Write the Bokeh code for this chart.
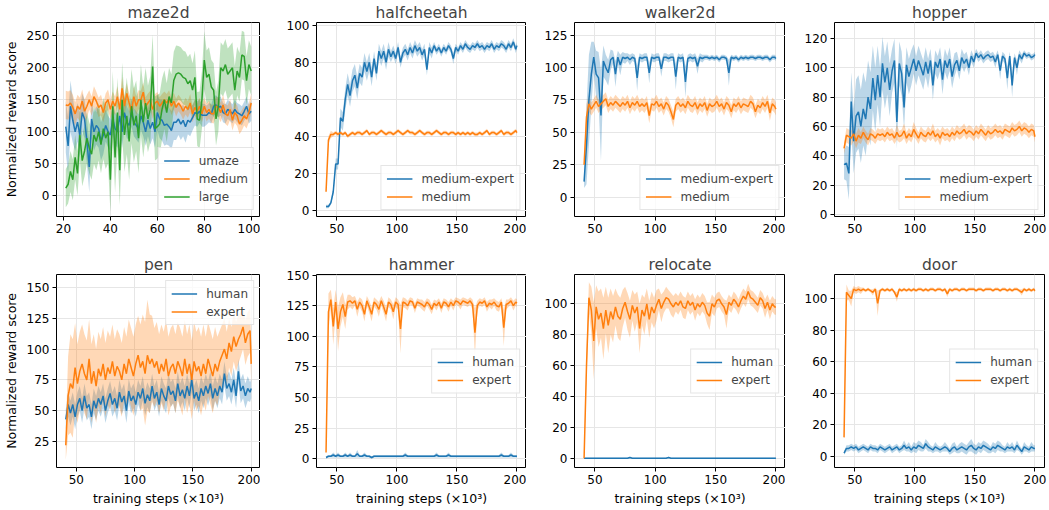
from bokeh.plotting import figure
from bokeh.layouts import gridplot
from bokeh.models import Range1d, Legend, LegendItem, FixedTicker
from bokeh.embed import file_html
from bokeh.resources import INLINE

BLUE = "#1f77b4"
ORANGE = "#ff7f0e"
GREEN = "#2ca02c"
FONT = "DejaVu Sans"

# ---------------- data ----------------
MAZE_X = list(range(21, 101))
MAZE_UMAZE = [108, 78, 140, 118, 100, 115, 95, 130, 120, 85,
              45, 120, 100, 110, 105, 85, 95, 110, 100, 95,
              120, 105, 100, 125, 100, 130, 115, 110, 130, 115,
              110, 105, 125, 115, 100, 118, 105, 115, 100, 130,
              120, 118, 110, 112, 108, 102, 115, 115, 120, 112,
              118, 108, 118, 115, 122, 130, 128, 132, 126, 126,
              126, 130, 128, 140, 142, 138, 140, 130, 128, 135,
              132, 128, 135, 130, 128, 125, 132, 140, 128, 132]
MAZE_UMAZE_SD = [40, 45, 40, 35, 30, 30, 35, 30, 30, 35,
                 40, 30, 30, 30, 30, 30, 30, 25, 25, 25,
                 25, 25, 25, 25, 25, 25, 25, 22, 22, 22,
                 22, 22, 22, 22, 22, 25, 25, 25, 25, 28,
                 30, 32, 32, 32, 30, 30, 28, 28, 25, 25,
                 25, 25, 22, 22, 20, 20, 20, 18, 18, 18,
                 15, 15, 15, 15, 15, 15, 15, 15, 15, 15,
                 15, 15, 15, 15, 15, 15, 15, 15, 15, 15]
MAZE_MEDIUM = [142, 141, 145, 138, 128, 140, 135, 148, 132, 140,
               150, 140, 155, 148, 138, 142, 130, 145, 150, 135,
               148, 140, 155, 135, 168, 140, 160, 145, 132, 155,
               140, 150, 150, 162, 140, 145, 150, 135, 145, 148,
               140, 145, 150, 145, 152, 140, 148, 138, 145, 140,
               132, 140, 135, 145, 128, 138, 132, 140, 128, 140,
               130, 135, 128, 128, 140, 138, 130, 142, 128, 125,
               135, 118, 130, 125, 112, 118, 125, 120, 130, 145]
MAZE_MEDIUM_SD = [22, 22, 20, 20, 18, 18, 18, 18, 18, 18,
                  15, 15, 16, 15, 15, 16, 15, 15, 16, 15,
                  15, 15, 16, 15, 18, 15, 16, 15, 15, 16,
                  15, 15, 14, 15, 14, 15, 14, 15, 14, 14,
                  14, 14, 13, 14, 13, 14, 13, 14, 13, 13,
                  13, 13, 13, 14, 13, 13, 13, 13, 13, 13,
                  14, 14, 14, 15, 15, 15, 15, 16, 16, 16,
                  16, 16, 16, 16, 16, 16, 15, 15, 15, 15]
MAZE_LARGE = [12, 18, 38, 25, 60, 35, 95, 55, 70, 90,
              75, 65, 95, 85, 100, 80, 105, 90, 100, 25,
              140, 60, 130, 40, 150, 95, 125, 85, 140, 110,
              125, 90, 150, 115, 145, 120, 135, 202, 105, 108,
              112, 135, 150, 130, 155, 145, 180, 190, 192, 190,
              185, 183, 175, 180, 165, 185, 120, 118, 150, 212,
              185, 190, 170, 165, 120, 140, 200, 195, 205, 190,
              195, 200, 165, 195, 185, 220, 218, 180, 205, 195]
MAZE_LARGE_SD = [30, 30, 32, 32, 35, 35, 40, 40, 40, 40,
                 40, 40, 45, 45, 45, 45, 48, 48, 50, 50,
                 55, 55, 55, 55, 58, 58, 60, 60, 58, 58,
                 55, 55, 55, 55, 55, 52, 52, 50, 50, 50,
                 48, 48, 46, 46, 45, 45, 45, 45, 42, 42,
                 42, 42, 42, 42, 42, 42, 42, 45, 45, 45,
                 42, 42, 42, 42, 42, 40, 40, 40, 40, 40,
                 40, 40, 38, 38, 38, 38, 38, 38, 38, 38]

STEPS = list(range(41, 200, 2)) + [200]

HC_MEDEXP = [2, 2, 4, 10, 25, 25, 50, 48, 60, 68,
             62, 70, 73, 66, 74, 72, 80, 75, 80, 72,
             82, 74, 86, 82, 86, 80, 87, 83, 86, 82,
             88, 80, 85, 87, 84, 88, 85, 89, 86, 88,
             84, 87, 76, 88, 85, 89, 86, 88, 85, 88,
             86, 89, 87, 82, 88, 86, 89, 87, 90, 88,
             87, 89, 88, 90, 88, 89, 87, 89, 88, 90,
             87, 89, 88, 90, 89, 87, 90, 88, 91, 87,
             89]
HC_MEDEXP_SD = [1, 1, 1, 2, 3, 3, 5, 5, 6, 6,
                6, 6, 6, 6, 5, 5, 5, 5, 5, 5,
                4, 4, 4, 4, 4, 4, 4, 3, 3, 3,
                3, 3, 3, 3, 3, 3, 3, 3, 3, 3,
                3, 3, 3, 3, 3, 2, 2, 2, 2, 2,
                2, 2, 2, 3, 2, 2, 2, 2, 2, 2,
                2, 2, 2, 2, 2, 2, 2, 2, 2, 2,
                2, 2, 2, 2, 2, 2, 2, 2, 2, 2,
                2]
HC_MED = [10, 38, 41, 41, 42, 41, 42, 41, 42, 40,
          41, 42, 41, 42, 42, 41, 42, 43, 41, 42,
          42, 41, 42, 43, 42, 41, 42, 42, 41, 42,
          43, 42, 41, 42, 43, 42, 42, 41, 42, 43,
          42, 41, 42, 42, 41, 42, 43, 42, 41, 42,
          42, 41, 42, 42, 41, 42, 41, 42, 41, 42,
          41, 42, 41, 41, 42, 41, 42, 43, 41, 42,
          42, 41, 42, 43, 41, 42, 42, 41, 42, 43,
          42]
HC_MED_SD = [1, 2, 2, 1, 1, 1, 1, 1, 1, 1,
             1, 1, 1, 1, 1, 1, 1, 1, 1, 1,
             1, 1, 1, 1, 1, 1, 1, 1, 1, 1,
             1, 1, 1, 1, 1, 1, 1, 1, 1, 1,
             1, 1, 1, 1, 1, 1, 1, 1, 1, 1,
             1, 1, 1, 1, 1, 1, 1, 1, 1, 1,
             1, 1, 1, 1, 1, 1, 1, 1, 1, 1,
             1, 1, 1, 1, 1, 1, 1, 1, 1, 1,
             1]

WK_MEDEXP = [12, 40, 75, 95, 108, 95, 92, 63, 105, 100,
             96, 106, 108, 95, 108, 102, 108, 107, 108, 106,
             108, 107, 92, 108, 107, 108, 108, 96, 108, 107,
             108, 108, 99, 108, 108, 107, 108, 108, 93, 108,
             107, 108, 89, 107, 108, 107, 108, 101, 108, 107,
             108, 108, 107, 108, 107, 108, 106, 108, 108, 107,
             96, 108, 107, 108, 106, 108, 107, 108, 107, 108,
             108, 107, 108, 108, 107, 108, 108, 106, 108, 108,
             107]
WK_MEDEXP_SD = [5, 30, 35, 25, 12, 18, 20, 35, 12, 10,
                10, 8, 5, 10, 5, 8, 4, 4, 3, 4,
                3, 3, 10, 3, 3, 3, 3, 8, 3, 3,
                3, 3, 6, 3, 3, 3, 3, 3, 10, 3,
                3, 3, 12, 3, 3, 3, 3, 6, 3, 3,
                2, 2, 2, 2, 2, 2, 2, 2, 2, 2,
                10, 2, 2, 2, 2, 2, 2, 2, 2, 2,
                2, 2, 2, 2, 2, 2, 2, 2, 2, 2,
                2]
WK_MED = [25, 62, 72, 68, 71, 74, 70, 72, 74, 76,
          70, 73, 71, 74, 72, 70, 73, 71, 74, 69,
          73, 71, 74, 70, 72, 70, 73, 63, 72, 71,
          74, 70, 72, 68, 73, 71, 66, 60, 71, 73,
          70, 72, 69, 74, 71, 70, 73, 68, 72, 70,
          73, 67, 72, 70, 71, 74, 70, 72, 68, 73,
          71, 66, 72, 70, 73, 69, 72, 71, 70, 74,
          72, 66, 71, 69, 73, 70, 74, 65, 72, 70,
          68]
WK_MED_SD = [3, 10, 6, 5, 5, 5, 5, 5, 5, 5,
             5, 5, 5, 5, 5, 5, 5, 5, 5, 5,
             5, 5, 5, 5, 5, 5, 5, 6, 5, 5,
             5, 5, 5, 5, 5, 5, 5, 6, 5, 5,
             5, 5, 5, 5, 5, 5, 5, 5, 5, 5,
             5, 5, 5, 5, 5, 5, 5, 5, 5, 5,
             5, 5, 5, 5, 5, 5, 5, 5, 5, 5,
             5, 5, 5, 5, 5, 5, 5, 6, 5, 5,
             5]

HP_MEDEXP = [34, 35, 28, 77, 50, 67, 70, 60, 72, 65,
             80, 72, 93, 78, 95, 80, 103, 90, 100, 85,
             98, 105, 63, 103, 96, 73, 102, 94, 100, 106,
             98, 105, 100, 95, 104, 96, 105, 88, 104, 100,
             106, 92, 105, 100, 106, 94, 102, 105, 98, 107,
             103, 106, 100, 108, 104, 110, 107, 109, 106, 108,
             109, 107, 108, 104, 109, 98, 108, 106, 93, 108,
             88, 107, 100, 109, 106, 110, 108, 109, 107, 108,
             109]
HP_MEDEXP_SD = [10, 12, 18, 20, 22, 25, 25, 25, 25, 25,
                25, 25, 22, 22, 20, 20, 18, 18, 18, 18,
                15, 15, 18, 15, 15, 15, 12, 12, 12, 10,
                10, 10, 10, 10, 10, 10, 8, 10, 8, 8,
                8, 10, 8, 8, 8, 8, 8, 6, 6, 6,
                6, 5, 5, 4, 4, 3, 3, 3, 3, 3,
                3, 3, 3, 4, 3, 6, 3, 3, 8, 3,
                8, 3, 5, 3, 3, 2, 2, 2, 2, 2,
                2]
HP_MED = [45, 54, 53, 52, 55, 50, 54, 52, 56, 53,
          51, 55, 54, 52, 55, 54, 55, 53, 56, 54,
          55, 52, 56, 53, 54, 57, 52, 55, 53, 58,
          55, 52, 56, 54, 53, 56, 54, 57, 53, 55,
          52, 56, 54, 55, 53, 56, 54, 57, 55, 56,
          58, 55, 57, 56, 54, 57, 55, 58, 56, 54,
          57, 55, 56, 58, 56, 57, 55, 58, 57, 56,
          59, 57, 58, 60, 57, 59, 58, 56, 58, 57,
          53]
HP_MED_SD = [4, 5, 5, 5, 5, 5, 5, 4, 4, 4,
             4, 4, 4, 4, 4, 4, 4, 4, 4, 4,
             4, 4, 5, 4, 4, 5, 4, 4, 4, 5,
             4, 4, 4, 4, 4, 4, 4, 5, 4, 4,
             5, 4, 4, 4, 4, 4, 4, 4, 4, 4,
             4, 4, 4, 4, 4, 4, 4, 4, 4, 4,
             4, 4, 4, 4, 4, 4, 4, 4, 4, 4,
             4, 4, 4, 4, 4, 4, 4, 4, 4, 4,
             4]

PEN_HUMAN = [43, 55, 48, 55, 45, 55, 60, 50, 62, 52,
             55, 45, 58, 52, 60, 55, 62, 50, 58, 64,
             55, 60, 52, 65, 57, 62, 50, 66, 58, 62,
             55, 65, 60, 68, 56, 63, 58, 70, 60, 65,
             55, 68, 62, 58, 70, 63, 66, 58, 72, 62,
             67, 60, 70, 62, 75, 60, 65, 58, 68, 62,
             70, 64, 72, 60, 68, 62, 70, 65, 80, 68,
             72, 65, 75, 62, 82, 66, 70, 62, 68, 65,
             68]
PEN_HUMAN_SD = [8, 10, 10, 10, 10, 10, 10, 10, 10, 10,
                10, 10, 10, 10, 10, 10, 10, 10, 10, 10,
                10, 10, 10, 10, 10, 10, 10, 10, 10, 10,
                10, 10, 10, 10, 10, 10, 10, 10, 10, 10,
                10, 10, 10, 10, 10, 10, 10, 10, 10, 10,
                10, 10, 10, 10, 10, 10, 10, 10, 10, 10,
                10, 10, 10, 10, 10, 10, 10, 10, 10, 10,
                10, 10, 10, 10, 10, 10, 10, 10, 10, 8,
                8]
PEN_EXPERT = [22, 62, 72, 68, 85, 72, 82, 88, 80, 75,
              92, 72, 82, 70, 84, 78, 88, 75, 85, 80,
              90, 78, 86, 82, 75, 88, 80, 92, 85, 78,
              88, 95, 85, 90, 80, 95, 88, 92, 85, 90,
              80, 88, 82, 92, 78, 85, 88, 80, 90, 85,
              78, 92, 80, 88, 75, 90, 82, 86, 78, 88,
              80, 92, 85, 78, 88, 82, 90, 95, 100, 92,
              105, 98, 110, 102, 108, 112, 118, 105, 112, 115,
              88]
PEN_EXPERT_SD = [12, 32, 40, 40, 36, 32, 32, 32, 32, 32,
                 32, 32, 30, 30, 30, 30, 30, 30, 30, 30,
                 30, 30, 30, 30, 30, 30, 30, 32, 32, 32,
                 32, 32, 35, 38, 42, 45, 40, 35, 32, 32,
                 32, 32, 32, 32, 32, 32, 32, 32, 32, 32,
                 32, 32, 32, 32, 32, 32, 32, 32, 32, 32,
                 30, 30, 30, 30, 30, 28, 25, 25, 25, 22,
                 20, 20, 20, 20, 20, 18, 18, 18, 18, 18,
                 15]

HM_HUMAN = [1, 2, 2, 3, 2, 3, 2, 2, 3, 2,
            3, 2, 2, 4, 2, 2, 3, 2, 2, 1,
            2, 2, 2, 2, 2, 2, 2, 2, 2, 2,
            2, 2, 2, 3, 2, 2, 2, 2, 2, 2,
            2, 2, 2, 2, 2, 2, 3, 2, 2, 2,
            2, 3, 2, 2, 2, 2, 2, 2, 2, 2,
            2, 2, 2, 2, 2, 2, 2, 2, 2, 2,
            2, 2, 2, 3, 2, 2, 2, 3, 2, 2,
            2]
HM_HUMAN_SD = [1, 1, 1, 2, 1, 2, 1, 1, 2, 1,
               2, 1, 1, 3, 1, 1, 2, 1, 1, 1,
               1, 1, 1, 1, 1, 1, 1, 1, 1, 1,
               1, 1, 1, 2, 1, 1, 1, 1, 1, 1,
               1, 1, 1, 1, 1, 1, 2, 1, 1, 1,
               1, 2, 1, 1, 1, 1, 1, 1, 1, 1,
               1, 1, 1, 1, 1, 1, 1, 1, 1, 1,
               1, 1, 1, 2, 1, 1, 1, 2, 1, 1,
               1]
HM_EXPERT = [5, 120, 130, 108, 128, 106, 120, 126, 116, 128,
             129, 127, 129, 122, 128, 125, 118, 129, 124, 118,
             128, 126, 122, 129, 124, 118, 128, 126, 120, 128,
             126, 106, 128, 127, 125, 129, 128, 123, 128, 127,
             126, 124, 128, 126, 122, 127, 125, 128, 123, 128,
             127, 124, 128, 125, 129, 128, 126, 129, 128, 127,
             129, 126, 103, 125, 128, 127, 129, 124, 127, 126,
             128, 125, 124, 128, 107, 126, 127, 129, 125, 128,
             127]
HM_EXPERT_SD = [3, 15, 8, 15, 10, 18, 12, 10, 10, 6,
                5, 5, 4, 6, 4, 5, 6, 4, 5, 6,
                4, 4, 6, 4, 5, 6, 4, 4, 6, 4,
                4, 20, 4, 4, 4, 3, 3, 4, 3, 3,
                4, 4, 3, 4, 4, 3, 4, 3, 4, 3,
                3, 4, 3, 4, 3, 3, 4, 3, 3, 3,
                3, 4, 20, 4, 3, 3, 3, 4, 3, 4,
                3, 4, 4, 3, 15, 4, 3, 3, 4, 3,
                3]

RL_HUMAN = [0, 0, 0, 0, 0, 0, 0, 0, 0, 0,
            0, 0, 0, 0, 0, 0, 0, 0, 0, 0.5,
            0, 0, 0, 0, 0, 0, 0, 0, 0, 0,
            0, 0, 0, 0, 0, 0.5, 0, 0, 0, 0,
            0, 0, 0, 0, 0, 0, 0, 0, 0, 0,
            0, 0, 0, 0, 0, 0, 0, 0, 0, 0,
            0, 0, 0, 0, 0, 0, 0, 0, 0, 0,
            0, 0, 0, 0, 0, 0, 0, 0, 0, 0,
            0]
RL_HUMAN_SD = [0.3, 0.3, 0.3, 0.3, 0.3, 0.3, 0.3, 0.3, 0.3, 0.3,
               0.3, 0.3, 0.3, 0.3, 0.3, 0.3, 0.3, 0.3, 0.3, 0.5,
               0.3, 0.3, 0.3, 0.3, 0.3, 0.3, 0.3, 0.3, 0.3, 0.3,
               0.3, 0.3, 0.3, 0.3, 0.3, 0.5, 0.3, 0.3, 0.3, 0.3,
               0.3, 0.3, 0.3, 0.3, 0.3, 0.3, 0.3, 0.3, 0.3, 0.3,
               0.3, 0.3, 0.3, 0.3, 0.3, 0.3, 0.3, 0.3, 0.3, 0.3,
               0.3, 0.3, 0.3, 0.3, 0.3, 0.3, 0.3, 0.3, 0.3, 0.3,
               0.3, 0.3, 0.3, 0.3, 0.3, 0.3, 0.3, 0.3, 0.3, 0.3,
               0.3]
RL_EXPERT = [0, 60, 104, 96, 76, 98, 90, 94, 84, 96,
             86, 95, 90, 98, 92, 90, 97, 101, 95, 90,
             99, 94, 98, 84, 96, 92, 100, 90, 98, 94,
             99, 103, 97, 101, 104, 103, 100, 98, 101, 99,
             102, 98, 97, 102, 99, 101, 96, 100, 98, 101,
             99, 94, 92, 100, 98, 102, 103, 100, 98, 93,
             101, 99, 103, 101, 98, 102, 105, 103, 108, 104,
             103, 101, 99, 104, 102, 97, 101, 96, 100, 98,
             98]
RL_EXPERT_SD = [0, 10, 10, 15, 25, 14, 18, 16, 20, 15,
                18, 15, 15, 12, 14, 14, 12, 10, 12, 12,
                10, 12, 10, 16, 10, 12, 10, 12, 10, 10,
                10, 7, 9, 7, 7, 6, 7, 7, 6, 6,
                6, 7, 7, 6, 6, 6, 7, 6, 6, 6,
                6, 7, 9, 6, 6, 5, 5, 5, 5, 9,
                5, 5, 5, 5, 5, 5, 5, 5, 5, 5,
                5, 5, 5, 5, 5, 6, 5, 6, 5, 5,
                5]

DR_HUMAN = [2, 5, 5, 6, 5, 6, 4, 5, 6, 5,
            4, 6, 5, 5, 4, 6, 5, 4, 5, 6,
            4, 5, 6, 4, 5, 7, 5, 6, 4, 6,
            5, 7, 6, 5, 8, 6, 5, 4, 6, 5,
            4, 5, 6, 5, 3, 5, 6, 4, 5, 6,
            5, 4, 6, 7, 5, 4, 6, 5, 7, 6,
            5, 4, 6, 5, 7, 6, 5, 4, 6, 5,
            6, 4, 7, 5, 3, 6, 5, 4, 6, 5,
            5]
DR_HUMAN_SD = [1, 2, 2, 2, 2, 2, 2, 2, 2, 2,
               2, 2, 2, 2, 2, 2, 2, 2, 2, 2,
               2, 2, 2, 2, 2, 3, 2, 3, 2, 3,
               3, 3, 3, 2, 3, 3, 2, 2, 3, 2,
               2, 2, 3, 2, 2, 3, 3, 2, 3, 3,
               3, 3, 3, 4, 3, 3, 3, 3, 3, 3,
               3, 2, 3, 3, 3, 3, 2, 2, 3, 2,
               3, 2, 3, 2, 2, 3, 2, 2, 3, 2,
               2]
DR_EXPERT = [12, 104, 102, 100, 106, 105, 106, 105, 106, 105,
             106, 105, 104, 106, 97, 105, 106, 105, 106, 105,
             106, 104, 101, 106, 105, 106, 105, 106, 105, 106,
             105, 106, 106, 105, 106, 105, 106, 106, 105, 106,
             106, 105, 106, 103, 106, 105, 106, 106, 105, 106,
             106, 105, 106, 106, 106, 105, 106, 106, 105, 106,
             106, 106, 105, 106, 106, 105, 106, 106, 105, 106,
             105, 106, 106, 105, 104, 106, 105, 106, 105, 106,
             105]
DR_EXPERT_SD = [1, 5, 3, 5, 2, 2, 2, 2, 1, 1,
                1, 1, 2, 1, 8, 1, 1, 1, 1, 1,
                1, 1, 3, 1, 1, 1, 1, 1, 1, 1,
                1, 1, 1, 1, 1, 1, 1, 1, 1, 1,
                1, 1, 1, 2, 1, 1, 1, 1, 1, 1,
                1, 1, 1, 1, 1, 1, 1, 1, 1, 1,
                1, 1, 1, 1, 1, 1, 1, 1, 1, 1,
                1, 1, 1, 1, 2, 1, 1, 1, 1, 1,
                1]

XLABEL = "training steps (\u00d710\u00b3)"
YLABEL = "Normalized reward score"


def panel(title, x, series, xr, yr, xticks, yticks, bl, fw, br, bt, fh, bb,
          legend_loc, xlabel=None, ylabel=None):
    p = figure(output_backend="svg", toolbar_location=None,
               frame_width=fw, frame_height=fh,
               x_range=Range1d(*xr), y_range=Range1d(*yr),
               min_border_left=bl, min_border_right=br,
               min_border_top=bt, min_border_bottom=bb, title=title)
    p.title.text_font = FONT
    p.title.text_font_size = "15.5px"
    p.title.text_font_style = "normal"
    p.title.align = "center"
    p.title.standoff = 2
    p.outline_line_color = "black"
    p.outline_line_width = 1
    p.outline_line_alpha = 1
    for g in (p.xgrid, p.ygrid):
        g.grid_line_color = "#e6e6e6"
        g.grid_line_width = 1
    p.xaxis.ticker = FixedTicker(ticks=xticks)
    p.yaxis.ticker = FixedTicker(ticks=yticks)
    for ax in (p.xaxis, p.yaxis):
        ax.axis_line_color = None
        ax.major_tick_line_color = "black"
        ax.major_tick_out = 4
        ax.major_tick_in = 0
        ax.minor_tick_line_color = None
        ax.major_label_text_font = FONT
        ax.major_label_text_font_size = "12px"
        ax.major_label_text_color = "black"
        ax.major_label_standoff = 3
        ax.axis_label_text_font = FONT
        ax.axis_label_text_font_size = "12.5px"
        ax.axis_label_text_font_style = "normal"
        ax.axis_label_text_color = "black"
    if xlabel:
        p.xaxis.axis_label = xlabel
        p.xaxis.axis_label_standoff = 4
    if ylabel:
        p.yaxis.axis_label = ylabel
        p.yaxis.axis_label_standoff = 5

    for name, y, sd, color in series:
        lo = [a - b for a, b in zip(y, sd)]
        hi = [a + b for a, b in zip(y, sd)]
        p.varea(x=x, y1=lo, y2=hi, fill_color=color, fill_alpha=0.3)
    items = []
    for name, y, sd, color in series:
        r = p.line(x, y, line_color=color, line_width=1.5)
        items.append(LegendItem(label=name, renderers=[r]))
    leg = Legend(items=items, location=legend_loc)
    leg.label_text_font = FONT
    leg.label_text_font_size = "12px"
    leg.glyph_width = 26
    leg.glyph_height = 15
    leg.label_height = 15
    leg.label_standoff = 9
    leg.spacing = 3
    leg.padding = 5
    leg.margin = 6
    leg.border_line_color = "#cccccc"
    leg.border_line_width = 1
    leg.background_fill_alpha = 0.8
    p.add_layout(leg)
    return p


XT = [50, 100, 150, 200]
XR = (33.05, 207.95)

p1 = panel("maze2d", MAZE_X,
           [("umaze", MAZE_UMAZE, MAZE_UMAZE_SD, BLUE),
            ("medium", MAZE_MEDIUM, MAZE_MEDIUM_SD, ORANGE),
            ("large", MAZE_LARGE, MAZE_LARGE_SD, GREEN)],
           (17.05, 103.95), (-32.4, 270.8), [20, 40, 60, 80, 100],
           [0, 50, 100, 150, 200, 250],
           50, 204, 0, 19, 194, 36, "bottom_right", ylabel=YLABEL)
p2 = panel("halfcheetah", STEPS,
           [("medium-expert", HC_MEDEXP, HC_MEDEXP_SD, BLUE),
            ("medium", HC_MED, HC_MED_SD, ORANGE)],
           XR, (-3.4, 101.5), XT, [0, 20, 40, 60, 80, 100],
           56, 210, 0, 19, 194, 36, "bottom_right")
p3 = panel("walker2d", STEPS,
           [("medium-expert", WK_MEDEXP, WK_MEDEXP_SD, BLUE),
            ("medium", WK_MED, WK_MED_SD, ORANGE)],
           XR, (-14.9, 134.8), XT, [0, 25, 50, 75, 100, 125],
           48, 211, 0, 19, 194, 36, "bottom_right")
p4 = panel("hopper", STEPS,
           [("medium-expert", HP_MEDEXP, HP_MEDEXP_SD, BLUE),
            ("medium", HP_MED, HP_MED_SD, ORANGE)],
           XR, (-1.4, 130.9), XT, [0, 20, 40, 60, 80, 100, 120],
           49, 210, 3, 19, 194, 36, "bottom_right")

p5 = panel("pen", STEPS,
           [("human", PEN_HUMAN, PEN_HUMAN_SD, BLUE),
            ("expert", PEN_EXPERT, PEN_EXPERT_SD, ORANGE)],
           XR, (3.9, 160.5), XT, [25, 50, 75, 100, 125, 150],
           50, 204, 0, 16, 193, 36, "top_right", xlabel=XLABEL, ylabel=YLABEL)
p6 = panel("hammer", STEPS,
           [("human", HM_HUMAN, HM_HUMAN_SD, BLUE),
            ("expert", HM_EXPERT, HM_EXPERT_SD, ORANGE)],
           XR, (-7.2, 150.5), XT, [0, 25, 50, 75, 100, 125, 150],
           56, 210, 0, 16, 193, 36, "right", xlabel=XLABEL)
p7 = panel("relocate", STEPS,
           [("human", RL_HUMAN, RL_HUMAN_SD, BLUE),
            ("expert", RL_EXPERT, RL_EXPERT_SD, ORANGE)],
           XR, (-6.0, 119.0), XT, [0, 20, 40, 60, 80, 100],
           48, 211, 0, 16, 193, 36, "right", xlabel=XLABEL)
p8 = panel("door", STEPS,
           [("human", DR_HUMAN, DR_HUMAN_SD, BLUE),
            ("expert", DR_EXPERT, DR_EXPERT_SD, ORANGE)],
           XR, (-7.1, 115.3), XT, [0, 20, 40, 60, 80, 100],
           49, 210, 3, 16, 193, 36, "right", xlabel=XLABEL)

grid = gridplot([[p1, p2, p3, p4], [p5, p6, p7, p8]], toolbar_location=None)

open("out.html", "w").write(file_html(grid, INLINE))
